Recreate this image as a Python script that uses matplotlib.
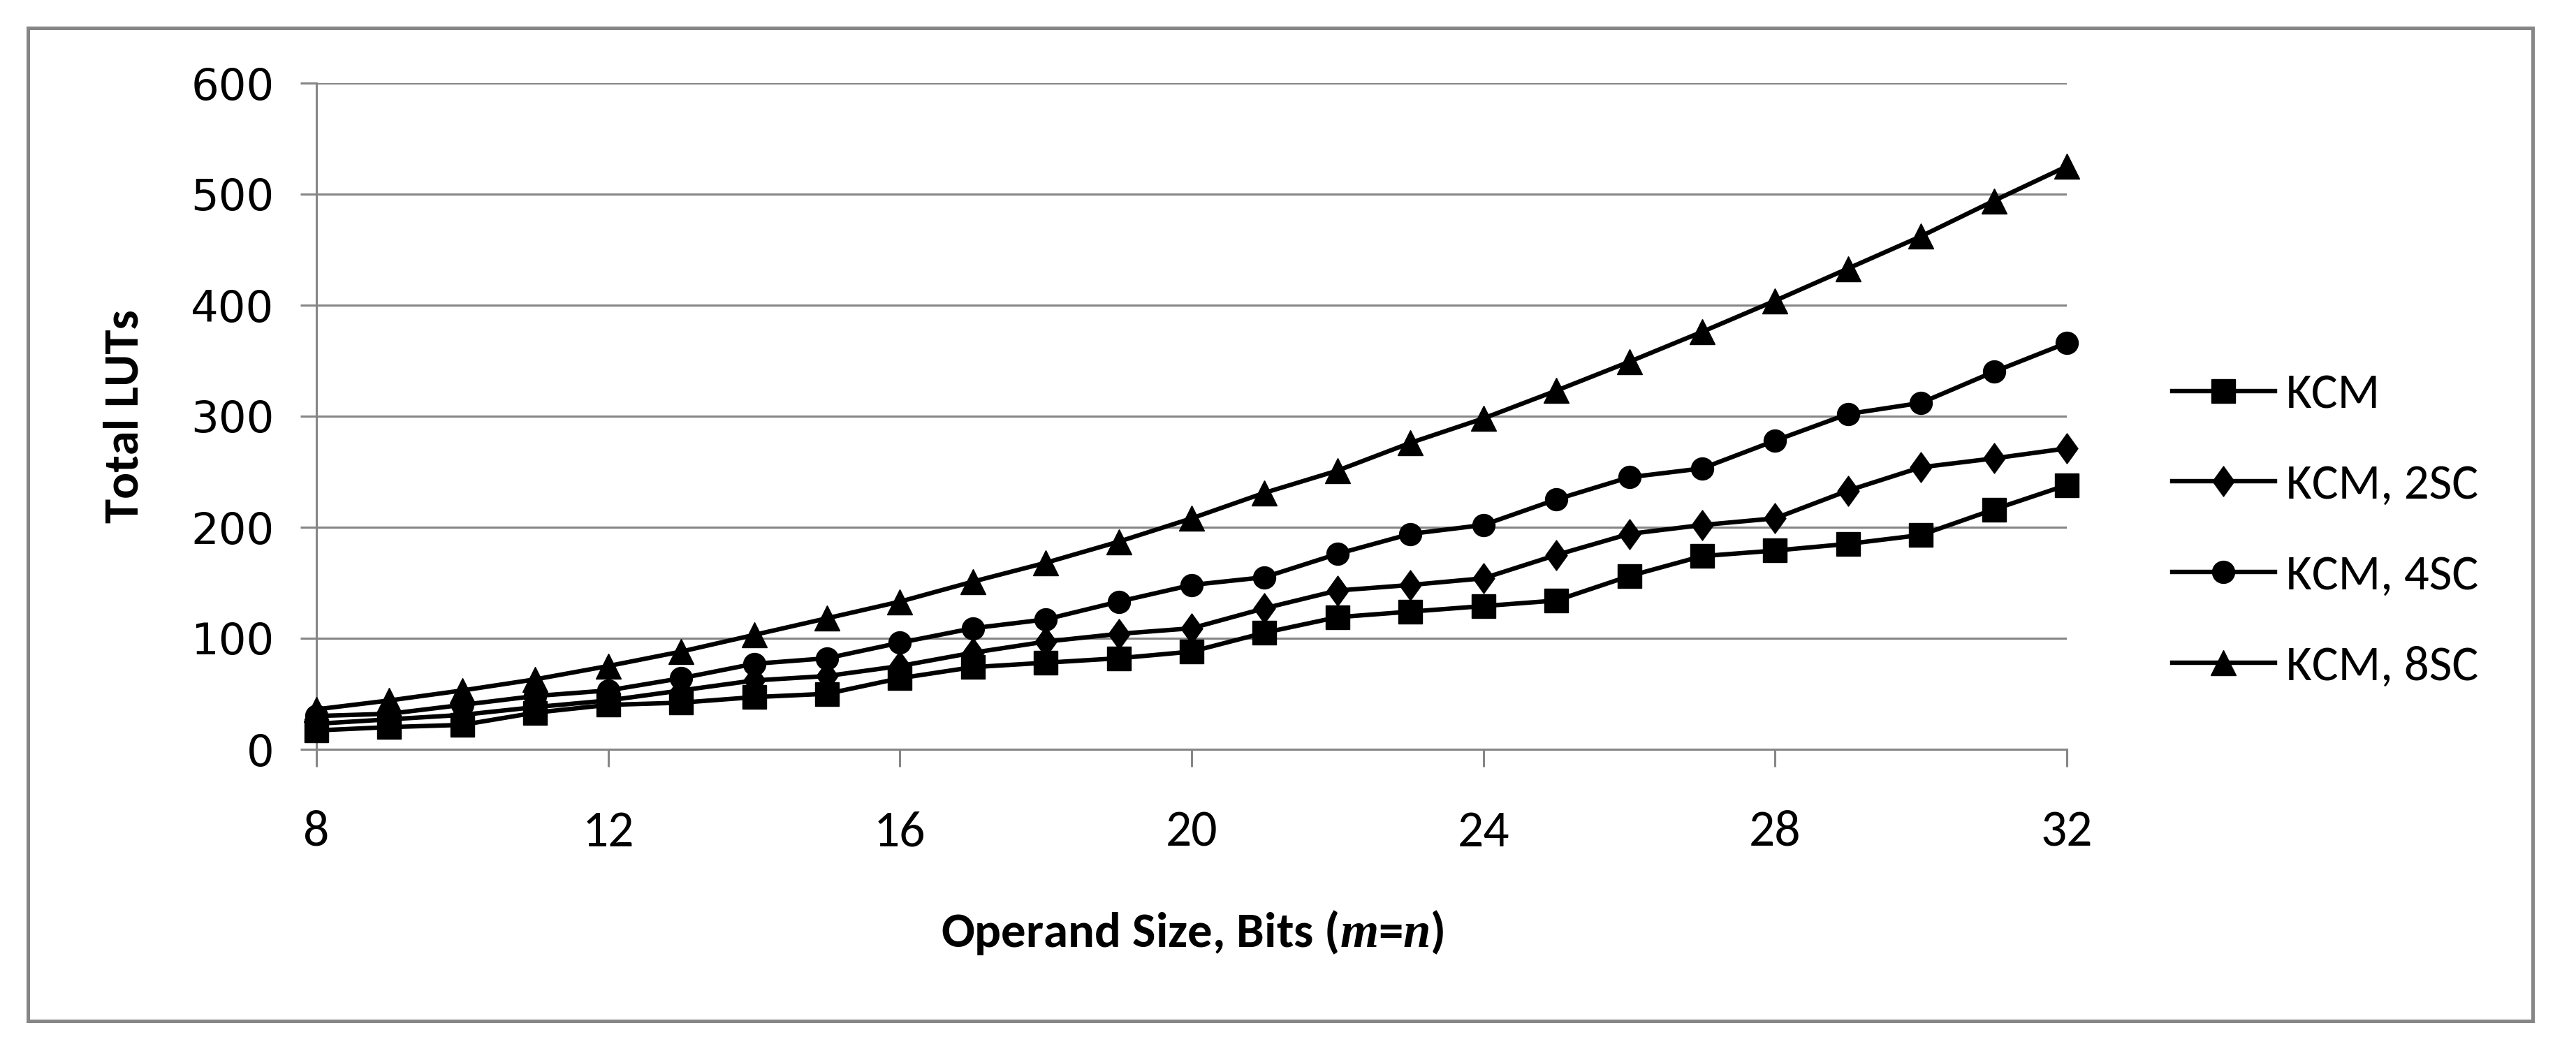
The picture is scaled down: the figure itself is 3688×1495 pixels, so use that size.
import matplotlib
matplotlib.use("Agg")
import matplotlib.pyplot as plt
from matplotlib import font_manager
from matplotlib.path import Path
from matplotlib.patches import Rectangle

operand_bits = list(range(8, 33))
kcm = [17, 20, 22, 33, 40, 42, 47, 50, 64, 74, 78, 82, 88, 105, 119, 124, 129, 134,
       156, 174, 179, 185, 193, 216, 238]
kcm_2sc = [23, 27, 31, 38, 44, 53, 62, 66, 75, 87, 97, 104, 109, 127, 143, 148, 154,
           175, 194, 202, 208, 233, 254, 262, 271]
kcm_4sc = [30, 32, 40, 48, 53, 64, 77, 82, 96, 109, 117, 133, 148, 155, 176, 194, 202,
           225, 245, 253, 278, 302, 312, 340, 366]
kcm_8sc = [36, 44, 53, 63, 75, 88, 103, 118, 133, 151, 168, 187, 208, 231, 251, 276,
           298, 323, 349, 376, 404, 433, 462, 494, 525]
series_labels = ["KCM", "KCM, 2SC", "KCM, 4SC", "KCM, 8SC"]
x_ticks = [8, 12, 16, 20, 24, 28, 32]
y_ticks = [0, 100, 200, 300, 400, 500, 600]

installed = {f.name for f in font_manager.fontManager.ttflist}
if 'Carlito' in installed:
    TXT = ['Carlito', 'DejaVu Sans']
    fs_leg, fs_xt, fs_lab = 51, 53, 51
    plt.rcParams['mathtext.rm'] = 'Carlito:bold'
elif 'Liberation Sans Narrow' in installed:
    TXT = ['Liberation Sans Narrow', 'DejaVu Sans']
    fs_leg, fs_xt, fs_lab = 46, 47, 47
    plt.rcParams['mathtext.rm'] = 'Liberation Sans Narrow:bold'
else:
    TXT = ['Liberation Sans', 'DejaVu Sans']
    fs_leg, fs_xt, fs_lab = 44, 46, 46
    plt.rcParams['mathtext.rm'] = 'Liberation Sans:bold'
plt.rcParams['mathtext.fontset'] = 'custom'
plt.rcParams['mathtext.it'] = 'Liberation Serif:italic:bold'

W, H = 3688, 1495
DPI = 100
fig = plt.figure(figsize=(W / DPI, H / DPI), dpi=DPI)
GREY = '#868686'

# outer chart border
fig.patches.append(Rectangle((40 / W, 1 - 1462 / H), (3626 - 40) / W, (1462 - 40) / H,
                             transform=fig.transFigure, fill=False,
                             edgecolor=GREY, linewidth=3.6, zorder=0))

ax = fig.add_axes([453 / W, 1 - 1073 / H, (2959 - 453) / W, (1073 - 119) / H])

diamond = Path([(0, 1), (0.72, 0), (0, -1), (-0.72, 0), (0, 1)],
               [Path.MOVETO, Path.LINETO, Path.LINETO, Path.LINETO, Path.CLOSEPOLY])

styles = [('s', 24), (diamond, 31), ('o', 23), ('^', 26)]
for vals, lab, (mk, ms) in zip([kcm, kcm_2sc, kcm_4sc, kcm_8sc], series_labels, styles):
    ax.plot(operand_bits, vals, color='black', linewidth=4.6, marker=mk,
            markersize=ms, markerfacecolor='black', markeredgecolor='black',
            label=lab, clip_on=False, zorder=3)

ax.set_xlim(8, 32)
ax.set_ylim(0, 600)
ax.set_xticks(x_ticks)
ax.set_yticks(y_ticks)
ax.yaxis.grid(True, color=GREY, linewidth=2.2)
ax.set_axisbelow(True)
for s in ['top', 'right']:
    ax.spines[s].set_visible(False)
for s in ['left', 'bottom']:
    ax.spines[s].set_color(GREY)
    ax.spines[s].set_linewidth(2.2)

ax.tick_params(axis='x', direction='out', length=18, width=2.2, color=GREY, pad=45,
               labelsize=fs_xt)
ax.tick_params(axis='y', direction='out', length=16.5, width=2.2, color=GREY, pad=27,
               labelsize=45)
for t in ax.get_xticklabels():
    t.set_fontfamily(TXT)
for t in ax.get_yticklabels():
    t.set_fontfamily('DejaVu Sans')

fig.text(178 / W, 1 - 596 / H, "Total LUTs", rotation=90, ha='center', va='center',
         fontsize=fs_lab, fontweight='bold', family=TXT)
fig.text(1707 / W, 1 - 1335 / H, r"Operand Size, Bits ($m$=$n$)", ha='center',
         va='center', fontsize=fs_lab, fontweight='bold', family=TXT)

leg = ax.legend(loc='center left', bbox_to_anchor=(3110 / W, 1 - 760 / H),
                bbox_transform=fig.transFigure, frameon=False,
                prop={'family': TXT, 'size': fs_leg},
                handlelength=2.3 * 46 / fs_leg, handletextpad=0.23,
                labelspacing=1.16 * 46 / fs_leg - 0.09,
                borderpad=0, borderaxespad=0)

fig.savefig("out.png", dpi=DPI)
